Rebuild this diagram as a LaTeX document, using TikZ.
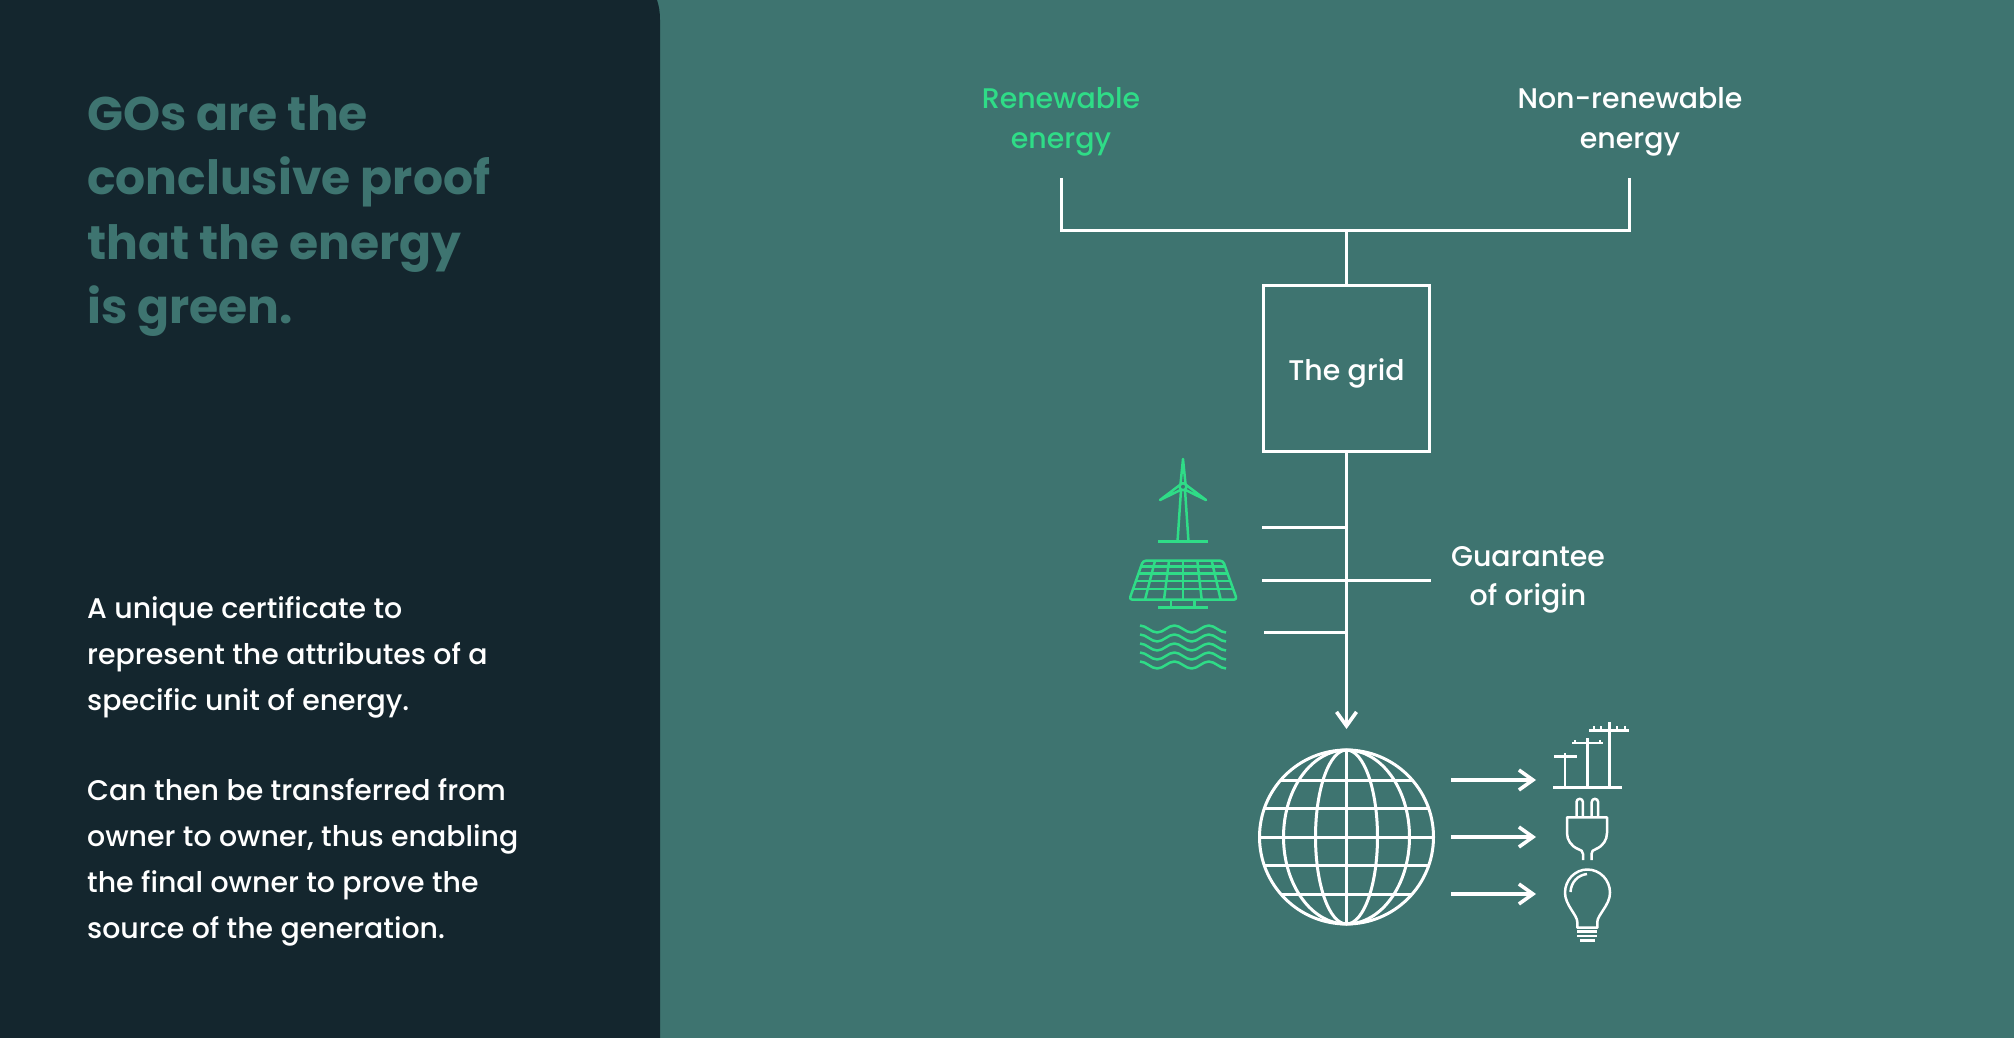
\documentclass[tikz,border=0pt]{standalone}
\usepackage{fontspec}
\setmainfont[BoldFont={Poppins Bold}]{Poppins Medium}
\usetikzlibrary{arrows.meta}
\definecolor{panel}{HTML}{14262E}
\definecolor{field}{HTML}{3E7470}
\definecolor{leaf}{HTML}{2FDC87}
\tikzstyle{wire} = [draw=white, line width=3pt]
\tikzstyle{flow} = [wire, -{Straight Barb[length=14pt,width=20pt,line width=3.6pt]}]
\tikzstyle{label} = [text=white, align=center, inner sep=0pt, font=\fontsize{28.4}{39.5}\selectfont]
\tikzstyle{icon} = [line width=2.5pt, line join=round]
\tikzstyle{lefttext} = [anchor=north west, align=left, inner sep=0pt]

\begin{document}
\begin{tikzpicture}[x=1pt,y=-1pt]
  \useasboundingbox (0,0) rectangle (2014,1038);
  % panels
  \fill[field] (0,0) rectangle (2014,1038);
  \fill[panel] (0,0) -- (657,0) .. controls (659,6) and (660,12) .. (660,20) -- (660,1038) -- (0,1038) -- cycle;

  % left column
  \node[lefttext, text=field, font=\fontsize{47.2}{64.3}\selectfont\bfseries] (title) at (87,95.5)
    {GOs are the\\conclusive proof\\that the energy\\is green.};
  \node[lefttext, text=white, font=\fontsize{28.4}{46}\selectfont] (intro) at (87,596)
    {A unique certificate to\\represent the attributes of a\\specific unit of energy.};
  \node[lefttext, text=white, font=\fontsize{28.4}{46}\selectfont] (detail) at (87,778)
    {Can then be transferred from\\owner to owner, thus enabling\\the final owner to prove the\\source of the generation.};

  % sources
  \node[label, text=leaf] (renewable) at (1061,122) {Renewable\\energy};
  \node[label] (nonrenewable) at (1630,122) {Non-renewable\\energy};
  \coordinate (lefttop) at (1061.5,178);
  \coordinate (righttop) at (1629.5,178);
  \coordinate (join) at (1346.5,230.5);
  \node[wire, minimum width=166pt, minimum height=166pt, inner sep=0pt, label, text height=25pt, text depth=0pt] (grid) at (1346.5,368) {The grid};
  \draw[wire, line join=miter] (lefttop) |- (join) -| (righttop);
  \draw[wire] (join) -- (grid.north);

  % certificate
  \node[label] (guarantee) at (1528,580) {Guarantee\\of origin};
  \coordinate (tick1) at (1262,527);
  \coordinate (tick2) at (1262,580);
  \coordinate (tick3) at (1264,632);
  \coordinate (tick1e) at (1346.5,527);
  \coordinate (tick2e) at (1431,580);
  \coordinate (tick3e) at (1346.5,632);
  \draw[wire] (tick1) -- (tick1e);
  \draw[wire] (tick2) -- (tick2e);
  \draw[wire] (tick3) -- (tick3e);

  % globe
  \node[wire, circle, minimum size=174pt, inner sep=0pt] (globe) at (1346.5,837) {};
  \coordinate (globetip) at (1346.5,729);
  \draw[flow] (grid.south) -- (globetip);
  \draw[wire] (1346.5,750) -- (1346.5,924);
  \draw[wire] (1260,837) -- (1433,837);
  \draw[wire] (1281,780) -- (1412,780) (1281,894) -- (1412,894);
  \draw[wire] (1265,808.5) -- (1428,808.5) (1265,865.5) -- (1428,865.5);
  \draw[wire] (1346.5,837) ellipse (31 and 87);
  \draw[wire] (1346.5,837) ellipse (63 and 87);

  % outputs
  \foreach \row/\ypos in {a/780,b/837,c/894} {
    \coordinate (from\row) at (1451,\ypos);
    \coordinate (to\row) at (1536,\ypos);
    \draw[flow, line width=3.6pt] (from\row) -- (to\row);
  }

  % pylons
  \draw[icon, white] (1553,787.7) -- (1622,787.7);
  \draw[icon, white] (1565,787.7) -- (1565,753) (1554,756.7) -- (1577,756.7);
  \draw[icon, white] (1587.7,787.7) -- (1587.7,738) (1572,743) -- (1602.7,743);
  \draw[icon, white] (1575,743) -- (1575,739.5) (1600,743) -- (1600,739.5);
  \draw[icon, white] (1609.3,787.7) -- (1609.3,722) (1589,730.7) -- (1629,730.7);
  \draw[icon, white] (1594,730.7) -- (1594,725.5) (1601,730.7) -- (1601,725.5) (1617,730.7) -- (1617,725.5) (1625,730.7) -- (1625,725.5);

  % plug
  \draw[icon, white] (1583,860) -- (1583,854) .. controls (1583,851) and (1581,850) .. (1578,849)
    .. controls (1571,846) and (1567,840) .. (1567,833) -- (1567,817.3) -- (1607,817.3) -- (1607,833)
    .. controls (1607,840) and (1603,846) .. (1596,849) .. controls (1593,850) and (1591.5,851) .. (1591.5,854) -- (1591.5,860);
  \draw[icon, white] (1576.5,817.3) -- (1576.5,802) arc[start angle=180, end angle=360, radius=3.2] -- (1582.9,817.3);
  \draw[icon, white] (1591.7,817.3) -- (1591.7,802) arc[start angle=180, end angle=360, radius=3.2] -- (1598.1,817.3);

  % bulb
  \draw[icon, white] (1577.3,927.7) -- (1577.3,922) .. controls (1577.3,915) and (1565,905) .. (1565,892.7)
    .. controls (1565,880) and (1575,869.5) .. (1587.3,869.5) .. controls (1600,869.5) and (1610,880) .. (1610,892.7)
    .. controls (1610,905) and (1597.3,915) .. (1597.3,922) -- (1597.3,927.7) -- cycle;
  \draw[icon, white] (1570.5,892) .. controls (1571,882) and (1578,875) .. (1587,874);
  \draw[icon, white] (1577.3,931.5) -- (1597.3,931.5) (1577.3,936) -- (1597.3,936) (1580,940.7) -- (1594.7,940.7);

  % turbine
  \draw[icon, leaf] (1183,486.7) circle (3.5);
  \draw[icon, leaf] (1180.5,484) -- (1183,459) -- (1185.5,484);
  \draw[icon, leaf] (1180.5,484.5) -- (1160,500) -- (1180.5,490);
  \draw[icon, leaf] (1185.5,484.5) -- (1206,500) -- (1185.5,490);
  \draw[icon, leaf] (1181,490) -- (1177.5,541.7) (1185,490) -- (1188.5,541.7);
  \draw[icon, leaf] (1158,541.7) -- (1208,541.7);

  % solar panel
  \draw[icon, leaf, rounded corners=3pt] (1143,560.7) -- (1223,560.7) -- (1237,599.7) -- (1129.3,599.7) -- cycle;
  \foreach \ya/\xa/\xb in {566.7/1140.5/1225.5,573.3/1138/1228,581/1135.5/1231,589/1132.5/1234} {
    \draw[icon, leaf] (\xa,\ya) -- (\xb,\ya);
  }
  \foreach \xa/\xb in {1155/1145,1169/1164,1183/1183,1197.3/1201.7,1211.7/1220.7} {
    \draw[icon, leaf] (\xa,560.7) -- (\xb,599.7);
  }
  \draw[icon, leaf] (1171,599.7) -- (1171,607.3) (1194.3,599.7) -- (1194.3,607.3);
  \draw[icon, leaf] (1158,607.3) -- (1208,607.3);

  % water
  \foreach \ypos in {625.5,634.5,643.5,652.5,661.5} {
    \draw[icon, leaf] (1140,\ypos) cos ++(8.6,3.5) sin ++(8.6,3.5) cos ++(8.6,-3.5) sin ++(8.6,-3.5)
      cos ++(8.6,3.5) sin ++(8.6,3.5) cos ++(8.6,-3.5) sin ++(8.6,-3.5) cos ++(8.6,3.5) sin ++(8.6,3.5);
  }
\end{tikzpicture}
\end{document}
